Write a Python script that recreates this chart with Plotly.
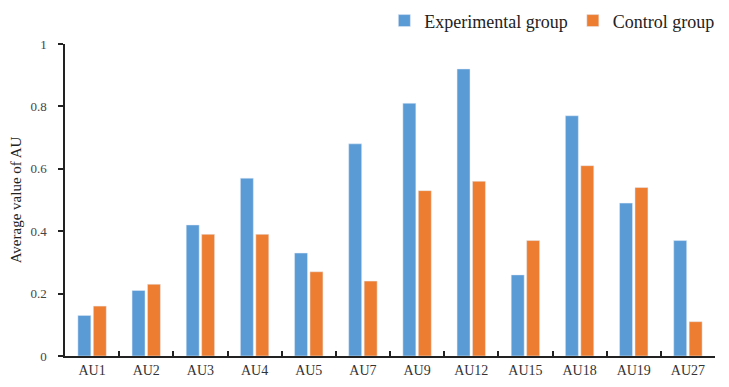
import plotly.graph_objects as go

categories = ["AU1", "AU2", "AU3", "AU4", "AU5", "AU7", "AU9", "AU12", "AU15", "AU18", "AU19", "AU27"]
experimental = [0.13, 0.21, 0.42, 0.57, 0.33, 0.68, 0.81, 0.92, 0.26, 0.77, 0.49, 0.37]
control = [0.16, 0.23, 0.39, 0.39, 0.27, 0.24, 0.53, 0.56, 0.37, 0.61, 0.54, 0.11]
y_ticks = [0, 0.2, 0.4, 0.6, 0.8, 1]
y_ticktext = ["0", "0.2", "0.4", "0.6", "0.8", "1"]

fig = go.Figure()
fig.add_trace(go.Bar(x=categories, y=experimental, name="Experimental group", marker_color="#5B9BD5"))
fig.add_trace(go.Bar(x=categories, y=control, name="Control group", marker_color="#ED7D31"))

serif = "Liberation Serif, Times New Roman, serif"
fig.update_layout(
    width=721, height=379,
    margin=dict(l=57, r=14, t=36, b=31, autoexpand=False),
    paper_bgcolor="white", plot_bgcolor="white",
    barmode="group", bargap=0.43, bargroupgap=0.16,
    font=dict(family=serif, color="#222222"),
    showlegend=True,
    legend=dict(orientation="h", xref="container", x=0.522, xanchor="left",
                yref="container", y=0.966, yanchor="middle",
                font=dict(size=18, family=serif, color="#222222"),
                itemwidth=30, tracegroupgap=0, bgcolor="rgba(0,0,0,0)"),
    xaxis=dict(showline=True, linecolor="#222222", linewidth=1.5, automargin=False,
               ticks="inside", tickson="boundaries", ticklen=5, tickcolor="#222222", tickwidth=1.5,
               tickfont=dict(size=14, family=serif, color="#333333"), showgrid=False),
    yaxis=dict(range=[0, 1], tickvals=y_ticks, ticktext=y_ticktext, automargin=False,
               showline=True, linecolor="#222222", linewidth=1.5,
               ticks="outside", ticklen=5, tickcolor="#222222", tickwidth=1.5,
               ticklabelstandoff=9,
               tickfont=dict(size=13, family=serif, color="#444444"), showgrid=False, zeroline=False,
               title=dict(text="Average value of AU", font=dict(size=15, family=serif, color="#222222"), standoff=8)),
)

fig.write_html("out.html")
